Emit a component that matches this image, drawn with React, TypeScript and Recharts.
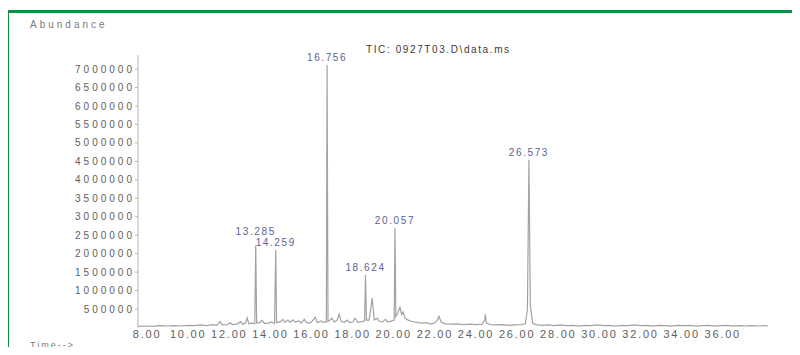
import { Line, LineChart, ReferenceDot, XAxis, YAxis } from "recharts";

// retention time (min) and abundance of the TIC trace
const retentionTimes = [
  7.56, 8.0, 8.3, 8.6, 9.0, 9.3, 9.6, 10.0, 10.3, 10.6, 10.9, 11.2, 11.4, 11.55, 11.65, 11.9, 12.04, 12.15,
  12.4, 12.55, 12.65, 12.8, 12.87, 12.95, 13.1, 13.24, 13.285, 13.33, 13.5, 13.6, 13.7, 13.9, 14.05, 14.2,
  14.259, 14.3, 14.5, 14.6, 14.7, 14.85, 14.95, 15.1, 15.2, 15.4, 15.5, 15.65, 15.75, 15.9, 16.0, 16.18,
  16.28, 16.45, 16.55, 16.72, 16.756, 16.8, 17.0, 17.1, 17.25, 17.34, 17.45, 17.6, 17.73, 17.85, 18.0,
  18.12, 18.25, 18.45, 18.58, 18.624, 18.67, 18.8, 18.95, 19.05, 19.2, 19.3, 19.45, 19.6, 19.7, 19.9,
  20.02, 20.057, 20.1, 20.2, 20.3, 20.38, 20.45, 20.55, 20.7, 20.85, 21.0, 21.2, 21.4, 21.6, 21.75, 21.95,
  22.1, 22.2, 22.3, 22.5, 22.8, 23.1, 23.4, 23.7, 24.0, 24.3, 24.42, 24.45, 24.5, 24.7, 25.0, 25.3, 25.6,
  25.9, 26.2, 26.4, 26.5, 26.573, 26.64, 26.75, 26.9, 27.2, 27.5, 27.8, 28.1, 28.4, 28.7, 29.0, 29.3, 29.6,
  29.9, 30.2, 30.5, 30.8, 31.1, 31.4, 31.7, 32.0, 32.3, 32.6, 32.9, 33.2, 33.5, 33.8, 34.1, 34.4, 34.7,
  35.0, 35.3, 35.6, 35.9, 36.2, 36.5, 36.8, 37.1, 37.4, 37.7, 38.0, 38.2,
];

const abundance = [
  30000, 40000, 30000, 50000, 40000, 50000, 40000, 60000, 50000, 70000, 50000, 80000, 60000, 160000, 70000,
  80000, 130000, 80000, 100000, 160000, 90000, 120000, 260000, 100000, 120000, 100000, 2230000, 120000,
  140000, 200000, 110000, 120000, 150000, 110000, 2100000, 130000, 160000, 220000, 140000, 200000, 140000,
  210000, 150000, 180000, 120000, 220000, 130000, 120000, 150000, 280000, 130000, 180000, 140000, 150000,
  7110000, 160000, 250000, 150000, 200000, 360000, 160000, 140000, 200000, 130000, 150000, 250000, 140000,
  160000, 180000, 1420000, 200000, 200000, 800000, 200000, 250000, 170000, 150000, 220000, 150000, 180000,
  200000, 2700000, 300000, 400000, 550000, 350000, 420000, 250000, 200000, 170000, 150000, 130000, 120000,
  130000, 100000, 110000, 180000, 300000, 150000, 100000, 90000, 100000, 80000, 90000, 80000, 90000, 200000,
  360000, 120000, 80000, 70000, 80000, 60000, 70000, 80000, 100000, 500000, 4540000, 600000, 120000, 80000,
  60000, 70000, 50000, 70000, 50000, 60000, 40000, 60000, 50000, 70000, 50000, 60000, 40000, 60000, 50000,
  70000, 50000, 60000, 40000, 60000, 50000, 40000, 60000, 50000, 60000, 40000, 50000, 60000, 40000, 50000,
  60000, 40000, 50000, 40000, 50000, 40000, 50000, 40000,
];

const peakTimes = [13.285, 14.259, 16.756, 18.624, 20.057, 26.573];
const peakHeights = [2230000, 2100000, 7110000, 1420000, 2700000, 4540000];
const peakLabels = ["13.285", "14.259", "16.756", "18.624", "20.057", "26.573"];
// small vertical nudge so the two close labels overlap like in the print
const peakLabelLift = [6, 0, 0, 0, 0, 0];

const timeTicks = [8, 10, 12, 14, 16, 18, 20, 22, 24, 26, 28, 30, 32, 34, 36];
const abundanceTicks = [
  500000, 1000000, 1500000, 2000000, 2500000, 3000000, 3500000, 4000000, 4500000, 5000000, 5500000,
  6000000, 6500000, 7000000,
];

const FONT = "'Liberation Sans', Arial, sans-serif";
const TRACE_COLOR = "#a2a2a2";
const TICK_COLOR = "#5e5e5e";
const PEAK_LABEL_COLOR = "#5a6296";

const traceData = retentionTimes.map((t, i) => ({ t, v: abundance[i] }));

// text just above a peak's apex
const peakLabel = (text: string, lift: number) => (props: any) => {
  const vb = props.viewBox || {};
  const x = (vb.x ?? 0) + (vb.width ?? 0) / 2;
  const y = vb.y ?? 0;
  return (
    <text
      x={x}
      y={y - 4 - lift}
      textAnchor="middle"
      fontSize={10}
      letterSpacing={1.6}
      fontFamily={FONT}
      fill={PEAK_LABEL_COLOR}
    >
      {text}
    </text>
  );
};

export default function App() {
  return (
    <div style={{ position: "relative", width: 800, height: 355, margin: -8, overflow: "hidden", background: "#fff" }}>
      <div
        style={{
          position: "absolute",
          left: 6,
          top: 10,
          width: 820,
          height: 400,
          borderTop: "3px solid #0f8f43",
          borderLeft: "3px solid #0f8f43",
        }}
      />
      <div
        style={{
          position: "absolute",
          left: 30,
          top: 20,
          fontFamily: FONT,
          fontSize: 10,
          lineHeight: "10px",
          letterSpacing: 3,
          color: "#7a7a7a",
        }}
      >
        Abundance
      </div>
      <div
        style={{
          position: "absolute",
          left: 366,
          top: 45,
          fontFamily: FONT,
          fontSize: 10,
          lineHeight: "10px",
          letterSpacing: 1.6,
          color: "#3a3a3a",
        }}
      >
        TIC: 0927T03.D\data.ms
      </div>
      <div
        style={{
          position: "absolute",
          left: 30,
          top: 341,
          fontFamily: FONT,
          fontSize: 9,
          lineHeight: "9px",
          letterSpacing: 2,
          color: "#7a7a7a",
        }}
      >
        Time--&gt;
      </div>

      <div style={{ position: "absolute", left: 0, top: 0 }}>
        <LineChart width={800} height={355} data={traceData} margin={{ top: 55, right: 32, bottom: 7.5, left: 0 }}>
          <XAxis
            type="number"
            dataKey="t"
            domain={[7.56, 38.2]}
            ticks={timeTicks}
            allowDataOverflow
            interval={0}
            height={20}
            axisLine={false}
            tickLine={false}
            tickSize={0}
            tickMargin={3}
            tickFormatter={(v: number) => v.toFixed(2)}
            tick={{ fill: TICK_COLOR, fontSize: 11, fontFamily: FONT, letterSpacing: 1.8 }}
          />
          <YAxis
            type="number"
            domain={[0, 7380000]}
            ticks={abundanceTicks}
            allowDataOverflow
            interval={0}
            width={138}
            axisLine={{ stroke: "#b5b5b5" }}
            tickLine={{ stroke: "#b5b5b5" }}
            tickSize={3}
            tickMargin={0}
            tick={{ fill: TICK_COLOR, fontSize: 10, fontFamily: FONT, letterSpacing: 3 }}
          />
          <Line
            type="linear"
            dataKey="v"
            stroke={TRACE_COLOR}
            strokeWidth={1.2}
            dot={false}
            activeDot={false}
            isAnimationActive={false}
          />
          {peakTimes.map((t, i) => (
            <ReferenceDot
              key={peakLabels[i]}
              x={t}
              y={peakHeights[i]}
              r={0}
              fill="none"
              stroke="none"
              ifOverflow="visible"
              label={peakLabel(peakLabels[i], peakLabelLift[i])}
            />
          ))}
        </LineChart>
      </div>
    </div>
  );
}
